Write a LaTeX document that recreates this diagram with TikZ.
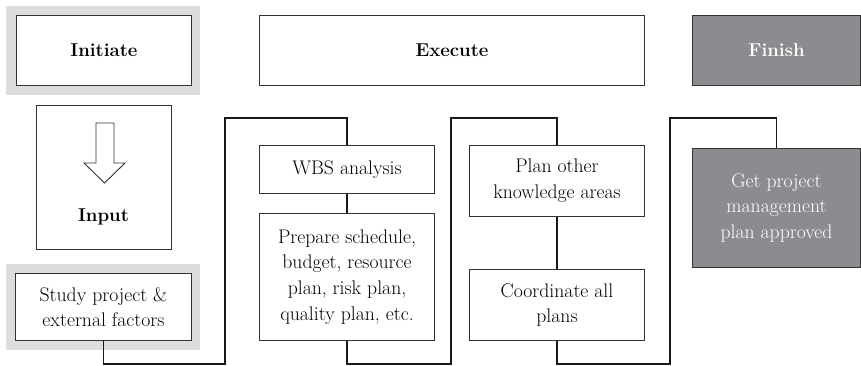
\documentclass[tikz,border=0pt]{standalone}
\usepackage{fontspec}
\begin{document}
\definecolor{edge}{HTML}{333333}
\definecolor{darkfill}{HTML}{8B8C8F}
\definecolor{lightbg}{HTML}{DCDDDF}
\begin{tikzpicture}[x=1pt,y=-1pt,
  box/.style={draw=edge, line width=1pt, fill=white, anchor=north west, inner sep=0pt, align=center,
    font=\fontsize{19.7}{25.7}\selectfont, text=black},
  darkbox/.style={box, fill=darkfill, text=white},
  titlefont/.style={font=\fontsize{18.6}{22}\selectfont\bfseries},
  halo/.style={fill=lightbg, draw=none, anchor=north west, inner sep=0pt},
  link/.style={draw=black!90, line width=1.6pt}]
\useasboundingbox (0,0) rectangle (861,366);
% grey halos
\node[halo, minimum width=194pt, minimum height=89pt] (haloA) at (6,6) {};
\node[halo, minimum width=194pt, minimum height=86pt] (haloB) at (6,264) {};
% top row
\node[box, titlefont, minimum width=175pt, minimum height=70pt] (initiate) at (16,15) {Initiate};
\node[box, titlefont, minimum width=385pt, minimum height=70pt] (execute) at (259,15) {Execute};
\node[darkbox, titlefont, minimum width=168pt, minimum height=70pt] (finish) at (692,15) {Finish};
% input
\node[box, minimum width=135pt, minimum height=144pt] (input) at (36,105) {};
\draw[draw=edge, line width=0.9pt, fill=white] (96,123) -- (114,123) -- (114,163) -- (125,163) -- (104.5,183) -- (84,163) -- (96,163) -- cycle;
\node[titlefont, text=black] (inputlbl) at (103.5,217) {Input};
\node[box, minimum width=176pt, minimum height=67pt] (study) at (15,273) {Study project \&\\external factors};
% column 2
\node[box, minimum width=175pt, minimum height=48pt] (wbs) at (259,145) {WBS analysis};
\node[box, minimum width=175pt, minimum height=127pt] (prep) at (259,213) {Prepare schedule,\\budget, resource\\plan, risk plan,\\quality plan, etc.};
% column 3
\node[box, minimum width=175pt, minimum height=71pt] (plan) at (469,145) {Plan other\\knowledge areas};
\node[box, minimum width=175pt, minimum height=71pt] (coord) at (469,269) {Coordinate all\\plans};
% finish
\node[darkbox, minimum width=168pt, minimum height=119pt] (approve) at (692,148) {Get project\\management\\plan approved};
% connectors
\coordinate (a1) at (225,364);
\coordinate (a2) at (225,118);
\coordinate (b1) at (451,364);
\coordinate (b2) at (451,118);
\coordinate (c1) at (670,364);
\coordinate (c2) at (670,118);
\draw[link] (study.south) |- (a1) -- (a2) -| (wbs.north);
\draw[link] (wbs.south) -- (prep.north);
\draw[link] (prep.south) |- (b1) -- (b2) -| (plan.north);
\draw[link] (plan.south) -- (coord.north);
\draw[link] (coord.south) |- (c1) -- (c2) -| (approve.north);
\end{tikzpicture}
\end{document}
